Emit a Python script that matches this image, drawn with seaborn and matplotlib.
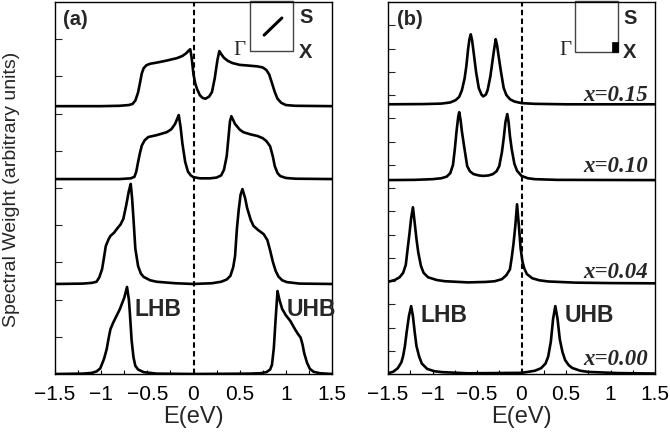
import numpy as np
import pandas as pd
import matplotlib
matplotlib.use("Agg")
import matplotlib.pyplot as plt
import seaborn as sns
from matplotlib.patches import Rectangle
from matplotlib.lines import Line2D
from matplotlib.ticker import MultipleLocator

sns.set_style("ticks")
plt.rcParams['font.family'] = ['Liberation Sans', 'DejaVu Sans']

# ---------------- data ----------------
# Panel (a): energy (eV) and spectral weight above each curve's baseline
a1_E = [-1.5, -1.0, -0.8, -0.7, -0.66, -0.63, -0.6, -0.58, -0.56, -0.54, -0.51, -0.47, -0.4, -0.3, -0.18, -0.12,
        -0.08, -0.05, -0.035, -0.02, 0.0, 0.02, 0.04, 0.07, 0.1, 0.13, 0.17, 0.2, 0.23, 0.26, 0.28, 0.3, 0.33,
        0.37, 0.42, 0.5, 0.6, 0.69, 0.75, 0.79, 0.82, 0.85, 0.88, 0.91, 0.95, 1.0, 1.1, 1.5]
a1_W = [0, 0, 0.01, 0.03, 0.06, 0.15, 0.37, 0.62, 0.88, 1.02, 1.1, 1.14, 1.17, 1.22, 1.29, 1.35,
        1.42, 1.5, 1.53, 1.3, 0.85, 0.6, 0.45, 0.29, 0.22, 0.2, 0.26, 0.38, 0.75, 1.25, 1.48, 1.4, 1.3,
        1.22, 1.16, 1.11, 1.09, 1.07, 1.04, 0.97, 0.85, 0.62, 0.38, 0.2, 0.09, 0.03, 0.01, 0]

a2_E = [-1.5, -0.8, -0.68, -0.64, -0.62, -0.6, -0.58, -0.56, -0.53, -0.49, -0.4, -0.29, -0.24, -0.2, -0.17,
        -0.16, -0.14, -0.12, -0.09, -0.06, -0.03, 0.0, 0.07, 0.18, 0.25, 0.3, 0.33, 0.36, 0.38, 0.395, 0.41,
        0.45, 0.5, 0.54, 0.62, 0.69, 0.75, 0.79, 0.83, 0.86, 0.88, 0.91, 0.94, 1.0, 1.1, 1.5]
a2_W = [0, 0, 0.02, 0.06, 0.2, 0.46, 0.7, 0.9, 1.04, 1.13, 1.18, 1.26, 1.34, 1.48, 1.66,
        1.72, 1.4, 0.95, 0.46, 0.2, 0.1, 0.05, 0.02, 0.02, 0.04, 0.1, 0.25, 0.62, 1.15, 1.55, 1.69,
        1.48, 1.33, 1.26, 1.2, 1.16, 1.1, 1.02, 0.88, 0.6, 0.35, 0.16, 0.08, 0.03, 0.01, 0]

a3_E = [-1.5, -1.2, -1.1, -1.05, -1.02, -0.99, -0.97, -0.95, -0.92, -0.9, -0.86, -0.83, -0.79, -0.76, -0.73,
        -0.7, -0.68, -0.665, -0.65, -0.63, -0.6, -0.57, -0.54, -0.47, -0.4, -0.2, 0.0, 0.2, 0.3, 0.36, 0.4,
        0.43, 0.45, 0.47, 0.49, 0.51, 0.53, 0.56, 0.58, 0.62, 0.65, 0.7, 0.76, 0.8, 0.83, 0.86, 0.89, 0.92,
        0.96, 1.01, 1.15, 1.5]
a3_W = [0, 0.01, 0.03, 0.06, 0.18, 0.4, 0.7, 1.02, 1.2, 1.29, 1.38, 1.48, 1.6, 1.75, 2.1,
        2.5, 2.69, 2.3, 1.75, 0.95, 0.48, 0.28, 0.19, 0.1, 0.06, 0.02, 0.0, 0.02, 0.06, 0.12, 0.22,
        0.45, 0.75, 1.48, 2.0, 2.4, 2.55, 2.3, 2.05, 1.72, 1.56, 1.45, 1.34, 1.18, 0.9, 0.59, 0.35, 0.2,
        0.1, 0.05, 0.01, 0]

a4_E = [-1.5, -1.2, -1.1, -1.05, -1.01, -0.97, -0.94, -0.92, -0.9, -0.87, -0.85, -0.8, -0.75, -0.72, -0.7,
        -0.69, -0.67, -0.65, -0.63, -0.6, -0.54, -0.4, 0.0, 0.6, 0.72, 0.79, 0.83, 0.85, 0.87, 0.89, 0.91,
        0.93, 0.96, 1.0, 1.05, 1.1, 1.13, 1.16, 1.18, 1.2, 1.23, 1.26, 1.3, 1.37, 1.5]
a4_W = [0, 0.01, 0.03, 0.07, 0.15, 0.4, 0.67, 0.95, 1.2, 1.38, 1.48, 1.73, 2.05, 2.34, 2.0,
        1.67, 0.9, 0.45, 0.22, 0.12, 0.05, 0.01, 0, 0.01, 0.02, 0.05, 0.12, 0.25, 0.7, 1.5, 2.23,
        2.0, 1.75, 1.58, 1.42, 1.2, 1.08, 0.98, 0.8, 0.55, 0.3, 0.14, 0.06, 0.02, 0]

# Panel (b)
b1_E = [-1.5, -1.1, -0.9, -0.8, -0.74, -0.7, -0.67, -0.64, -0.62, -0.6, -0.585, -0.57, -0.555, -0.54, -0.51,
        -0.48, -0.45, -0.43, -0.4, -0.38, -0.35, -0.33, -0.31, -0.29, -0.275, -0.26, -0.23, -0.2, -0.17,
        -0.13, -0.08, 0.0, 0.15, 0.5, 1.5]
b1_W = [0, 0.01, 0.03, 0.08, 0.18, 0.32, 0.6, 1.1, 1.63, 2.37, 2.8, 3.01, 2.75, 2.3, 1.38,
        0.7, 0.42, 0.34, 0.42, 0.62, 1.2, 1.75, 2.3, 2.8, 2.55, 2.15, 1.38, 0.7, 0.4,
        0.22, 0.12, 0.05, 0.02, 0.0, 0]

b2_E = [-1.5, -1.2, -1.0, -0.9, -0.84, -0.8, -0.77, -0.75, -0.73, -0.71, -0.70, -0.685, -0.67, -0.64, -0.61,
        -0.58, -0.54, -0.48, -0.43, -0.37, -0.32, -0.28, -0.25, -0.22, -0.2, -0.18, -0.16, -0.145, -0.13,
        -0.11, -0.08, -0.05, 0.0, 0.07, 0.15, 0.4, 1.5]
b2_W = [0, 0.01, 0.04, 0.08, 0.15, 0.3, 0.65, 1.3, 2.1, 2.75, 2.92, 2.6, 2.1, 1.33, 0.6,
        0.38, 0.26, 0.2, 0.18, 0.2, 0.26, 0.38, 0.6, 1.2, 1.8, 2.5, 2.84, 2.5, 1.9,
        1.33, 0.7, 0.4, 0.18, 0.08, 0.04, 0.01, 0]

b3_E = [-1.5, -1.42, -1.37, -1.33, -1.3, -1.28, -1.26, -1.24, -1.22, -1.2, -1.18, -1.16, -1.13, -1.1, -1.05,
        -0.95, -0.86, -0.6, -0.4, -0.3, -0.22, -0.17, -0.13, -0.11, -0.09, -0.07, -0.05, -0.03, -0.01, 0.01,
        0.03, 0.06, 0.12, 0.2, 0.3, 0.6, 1.0, 1.5]
b3_W = [0.06, 0.15, 0.26, 0.45, 0.8, 1.46, 2.1, 2.8, 3.27, 2.6, 1.9, 1.33, 0.75, 0.45, 0.26,
        0.14, 0.09, 0.04, 0.06, 0.09, 0.18, 0.35, 0.6, 1.1, 1.7, 2.45, 3.4, 2.5, 1.5, 0.95,
        0.65, 0.4, 0.22, 0.13, 0.08, 0.03, 0.01, 0]

b4_E = [-1.5, -1.44, -1.39, -1.35, -1.33, -1.31, -1.29, -1.265, -1.24, -1.22, -1.2, -1.18, -1.15, -1.12, -1.06,
        -0.98, -0.89, -0.6, 0.0, 0.07, 0.15, 0.22, 0.27, 0.3, 0.33, 0.355, 0.38, 0.405, 0.43, 0.46, 0.49,
        0.53, 0.57, 0.66, 0.75, 1.08, 1.5]
b4_W = [0.03, 0.1, 0.25, 0.5, 0.77, 1.2, 1.81, 2.49, 2.92, 2.49, 1.8, 1.2, 0.75, 0.45, 0.22,
        0.12, 0.08, 0.03, 0.05, 0.09, 0.14, 0.25, 0.45, 0.75, 1.4, 2.37, 2.92, 2.37, 1.5, 0.95, 0.6,
        0.38, 0.26, 0.14, 0.09, 0.04, 0.02]

# vertical offsets of the stacked curves (top to bottom)
a_offsets = [7.2, 5.24, 2.42, 0.0]
b_offsets = [11.6, 8.34, 3.9, 0.0]

doping_labels = ["x=0.15", "x=0.10", "x=0.04", "x=0.00"]
x_tick_values = [-1.5, -1.0, -0.5, 0.0, 0.5, 1.0, 1.5]
x_tick_labels = ["\u22121.5", "\u22121", "\u22120.5", "0", "0.5", "1", "1.5"]
band_labels = ["LHB", "UHB"]


def make_frame(curves, offsets):
    rows = []
    for i, ((E, W), off) in enumerate(zip(curves, offsets)):
        for e, w in zip(E, W):
            rows.append({"E": e, "S": w + off, "row": i})
    return pd.DataFrame(rows)


df_a = make_frame([(a1_E, a1_W), (a2_E, a2_W), (a3_E, a3_W), (a4_E, a4_W)], a_offsets)
df_b = make_frame([(b1_E, b1_W), (b2_E, b2_W), (b3_E, b3_W), (b4_E, b4_W)], b_offsets)

fig = plt.figure(figsize=(6.7, 4.39), dpi=100)
ax_a = fig.add_axes([55 / 670, 64 / 439, 277 / 670, 372 / 439])
ax_b = fig.add_axes([388 / 670, 64 / 439, 267 / 670, 372 / 439])

for ax, df, ymax in [(ax_a, df_a, 10), (ax_b, df_b, 16)]:
    sns.lineplot(data=df, x="E", y="S", units="row", estimator=None, color="black",
                 lw=1.9, ax=ax, legend=False, sort=True)
    ax.axvline(0, color="black", lw=1.5, ls=(0, (2.6, 1.6)))
    ax.set_xlim(-1.5, 1.5)
    ax.set_ylim(0, ymax)
    ax.set_yticks(range(1, ymax))
    ax.set_yticklabels([])
    ax.set_xticks(x_tick_values)
    ax.set_xticklabels(x_tick_labels)
    ax.xaxis.set_minor_locator(MultipleLocator(0.25))
    ax.tick_params(axis="x", which="both", direction="in", length=3, width=0.8,
                   labelsize=15, pad=7, colors="black")
    ax.tick_params(axis="y", which="both", direction="in", length=5, width=0.8)
    for sp in ax.spines.values():
        sp.set_color("black")
        sp.set_linewidth(1.0)
    ax.set_xlabel("E(eV)", fontsize=17, labelpad=2)
    ax.set_ylabel("")

ax_a.set_ylabel("Spectral Weight (arbitrary units)", fontsize=14)
ax_a.yaxis.set_label_coords(-0.125, 0.5)

# panel tags
ax_a.text(0.03, 0.955, "(a)", transform=ax_a.transAxes, fontsize=14.5, fontweight="bold", va="center", ha="left")
ax_b.text(0.035, 0.955, "(b)", transform=ax_b.transAxes, fontsize=14.5, fontweight="bold", va="center", ha="left")

# insets (Brillouin zone sketches)
ax_a.add_patch(Rectangle((0.704, 0.868), 0.155, 0.135, transform=ax_a.transAxes,
                         fill=False, ec="#444444", lw=1.0, clip_on=False))
ax_a.add_line(Line2D([0.755, 0.819], [0.911, 0.957], transform=ax_a.transAxes, color="black", lw=2.2))
ax_a.text(0.666, 0.872, "\u0393", transform=ax_a.transAxes, family="Liberation Serif", fontsize=15,
          ha="center", va="center")
ax_a.text(0.906, 0.962, "S", transform=ax_a.transAxes, fontsize=14.5, fontweight="bold", ha="center", va="center")
ax_a.text(0.906, 0.866, "X", transform=ax_a.transAxes, fontsize=14.5, fontweight="bold", ha="center", va="center")

ax_b.add_patch(Rectangle((0.700, 0.866), 0.161, 0.137, transform=ax_b.transAxes,
                         fill=False, ec="#444444", lw=1.0, clip_on=False))
ax_b.add_patch(Rectangle((0.838, 0.866), 0.023, 0.026, transform=ax_b.transAxes,
                         fc="black", ec="black", lw=0.5))
ax_b.text(0.663, 0.872, "\u0393", transform=ax_b.transAxes, family="Liberation Serif", fontsize=15,
          ha="center", va="center")
ax_b.text(0.906, 0.958, "S", transform=ax_b.transAxes, fontsize=14.5, fontweight="bold", ha="center", va="center")
ax_b.text(0.906, 0.866, "X", transform=ax_b.transAxes, fontsize=14.5, fontweight="bold", ha="center", va="center")

# band labels
ax_a.text(-0.634, 1.77, band_labels[0], fontsize=16.5, fontweight="bold", ha="left", va="center")
ax_a.text(1.01, 1.77, band_labels[1], fontsize=16.5, fontweight="bold", ha="left", va="center", clip_on=False)
ax_b.text(-1.13, 2.58, band_labels[0], fontsize=16.5, fontweight="bold", ha="left", va="center")
ax_b.text(0.49, 2.58, band_labels[1], fontsize=16.5, fontweight="bold", ha="left", va="center")

# doping labels
for lab, yv in zip(doping_labels, [12.04, 8.95, 4.43, 0.65]):
    ax_b.text(1.42, yv, lab, family="Liberation Serif", fontstyle="italic", fontweight="bold",
              fontsize=16.5, ha="right", va="center")

fig.savefig("out.png", dpi=100)
